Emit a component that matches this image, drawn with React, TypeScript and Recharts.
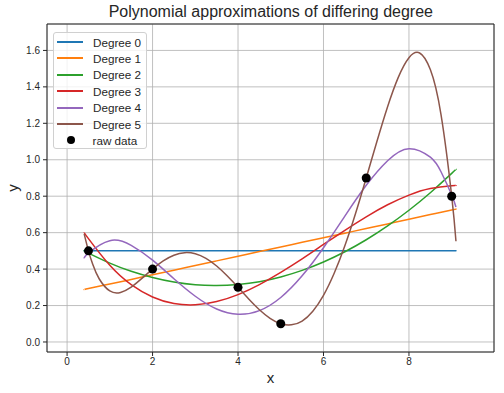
import React from "react";
import { ComposedChart, Line, Scatter, XAxis, YAxis, CartesianGrid, ReferenceArea, Label } from "recharts";

// sample positions along x for the fitted curves
const xs = [0.4, 0.5, 1, 1.5, 2, 2.5, 3, 3.5, 4, 4.5, 5, 5.5, 6, 6.5, 7, 7.5, 8, 8.5, 9, 9.1];
const xs4 = [0.4, 0.5, 1, 1.5, 2, 2.5, 3, 3.5, 4, 4.5, 5, 5.5, 6, 6.5, 7, 7.5, 8, 8.5, 8.75, 9, 9.1];
const xs5 = [
  0.4, 0.5, 0.6, 0.75, 1, 1.25, 1.5, 1.75, 2, 2.25, 2.5, 2.75, 3, 3.25, 3.5, 3.75, 4, 4.25, 4.5, 4.75,
  5, 5.25, 5.5, 5.75, 6, 6.25, 6.5, 6.75, 7, 7.25, 7.5, 7.75, 8, 8.25, 8.5, 8.75, 9, 9.1,
];

const degree0 = [0.5, 0.5, 0.5, 0.5, 0.5, 0.5, 0.5, 0.5, 0.5, 0.5, 0.5, 0.5, 0.5, 0.5, 0.5, 0.5, 0.5, 0.5, 0.5, 0.5];
const degree1 = [0.287, 0.293, 0.318, 0.343, 0.369, 0.394, 0.42, 0.445, 0.47, 0.496, 0.521, 0.547, 0.572, 0.597, 0.623, 0.648, 0.674, 0.699, 0.724, 0.729];
const degree2 = [0.5, 0.488, 0.433, 0.388, 0.354, 0.329, 0.314, 0.31, 0.316, 0.331, 0.357, 0.393, 0.439, 0.495, 0.561, 0.637, 0.723, 0.819, 0.925, 0.948];
const degree3 = [0.602, 0.567, 0.421, 0.315, 0.247, 0.211, 0.204, 0.222, 0.26, 0.315, 0.382, 0.456, 0.535, 0.613, 0.687, 0.753, 0.806, 0.842, 0.857, 0.857];
const degree4 = [0.459, 0.488, 0.556, 0.53, 0.449, 0.347, 0.251, 0.181, 0.152, 0.172, 0.244, 0.363, 0.517, 0.691, 0.86, 0.995, 1.061, 1.014, 0.934, 0.807, 0.741];
const degree5 = [
  0.593, 0.5, 0.426, 0.347, 0.28, 0.272, 0.301, 0.349, 0.4, 0.445, 0.476, 0.49, 0.484, 0.459, 0.417, 0.362, 0.3, 0.236, 0.177, 0.13,
  0.1, 0.094, 0.115, 0.169, 0.256, 0.377, 0.528, 0.705, 0.9, 1.1, 1.291, 1.452, 1.56, 1.586, 1.495, 1.248, 0.8, 0.553,
];

const rawX = [0.5, 2, 4, 5, 7, 9];
const rawY = [0.5, 0.4, 0.3, 0.1, 0.9, 0.8];

const xTicks = [0, 2, 4, 6, 8];
const yTicks = [0, 0.2, 0.4, 0.6, 0.8, 1.0, 1.2, 1.4, 1.6];

const toPoints = (x: number[], y: number[]) => x.map((v, i) => ({ x: v, y: y[i] }));

const series = [
  { name: "Degree 0", color: "#1f77b4", data: toPoints(xs, degree0) },
  { name: "Degree 1", color: "#ff7f0e", data: toPoints(xs, degree1) },
  { name: "Degree 2", color: "#2ca02c", data: toPoints(xs, degree2) },
  { name: "Degree 3", color: "#d62728", data: toPoints(xs, degree3) },
  { name: "Degree 4", color: "#9467bd", data: toPoints(xs4, degree4) },
  { name: "Degree 5", color: "#8c564b", data: toPoints(xs5, degree5) },
];
const rawData = toPoints(rawX, rawY);

const FONT = "'Liberation Sans', Arial, sans-serif";
const INK = "#262626";

function LegendBox() {
  return (
    <div
      style={{
        position: "absolute",
        left: 53,
        top: 32,
        width: 92,
        height: 115,
        background: "rgba(255,255,255,0.8)",
        border: "1px solid #d0d0d0",
        borderRadius: 3,
        fontFamily: FONT,
        fontSize: 11.7,
        color: INK,
      }}
    >
      {series.map((s, i) => (
        <div key={s.name} style={{ position: "absolute", left: 0, top: 1 + i * 16.4, height: 16, display: "flex", alignItems: "center" }}>
          <div style={{ marginLeft: 3, width: 26, height: 2, background: s.color }} />
          <span style={{ marginLeft: 10 }}>{s.name}</span>
        </div>
      ))}
      <div style={{ position: "absolute", left: 0, top: 1 + 6 * 16.4, height: 16, display: "flex", alignItems: "center" }}>
        <div style={{ marginLeft: 12.5, width: 8, height: 8, borderRadius: 4, background: "#000" }} />
        <span style={{ marginLeft: 18 }}>raw data</span>
      </div>
    </div>
  );
}

export default function App() {
  return (
    <div style={{ position: "absolute", left: 0, top: 0, width: 504, height: 393, background: "#fff" }}>
      <div
        style={{
          position: "absolute",
          left: 270.8,
          top: 3,
          transform: "translateX(-50%)",
          whiteSpace: "nowrap",
          fontFamily: FONT,
          fontSize: 16,
          color: INK,
        }}
      >
        Polynomial approximations of differing degree
      </div>
      <ComposedChart width={504} height={393} margin={{ top: 24, right: 10, bottom: 11, left: 7 }}>
        <CartesianGrid stroke="#b0b0b0" strokeWidth={0.8} />
        <XAxis
          type="number"
          dataKey="x"
          domain={[-0.47, 9.99]}
          ticks={xTicks}
          allowDataOverflow
          height={30}
          axisLine={false}
          tickLine={{ stroke: INK }}
          tickSize={4}
          tickMargin={2}
          tick={{ fontSize: 10, fill: INK, fontFamily: FONT }}
        >
          <Label value="x" position="insideBottom" offset={-1} style={{ fontSize: 15, fill: INK, fontFamily: FONT }} />
        </XAxis>
        <YAxis
          type="number"
          dataKey="y"
          domain={[-0.055, 1.745]}
          ticks={yTicks}
          allowDataOverflow
          width={40}
          axisLine={false}
          tickLine={{ stroke: INK }}
          tickSize={4}
          tickMargin={3}
          tickFormatter={(v: number) => v.toFixed(1)}
          tick={{ fontSize: 10, fill: INK, fontFamily: FONT }}
        >
          <Label value="y" angle={-90} position="insideLeft" offset={6} style={{ fontSize: 15, fill: INK, fontFamily: FONT, textAnchor: "middle" }} />
        </YAxis>
        {series.map((s) => (
          <Line
            key={s.name}
            data={s.data}
            dataKey="y"
            name={s.name}
            type="natural"
            stroke={s.color}
            strokeWidth={1.5}
            dot={false}
            activeDot={false}
            isAnimationActive={false}
          />
        ))}
        <Scatter
          data={rawData}
          dataKey="y"
          name="raw data"
          fill="#000"
          isAnimationActive={false}
          shape={(p: any) => <circle cx={p.cx} cy={p.cy} r={4.5} fill="#000" />}
        />
        <ReferenceArea x1={-0.47} x2={9.99} y1={-0.055} y2={1.745} fill="none" stroke={INK} strokeWidth={1} ifOverflow="visible" />
      </ComposedChart>
      <LegendBox />
    </div>
  );
}
